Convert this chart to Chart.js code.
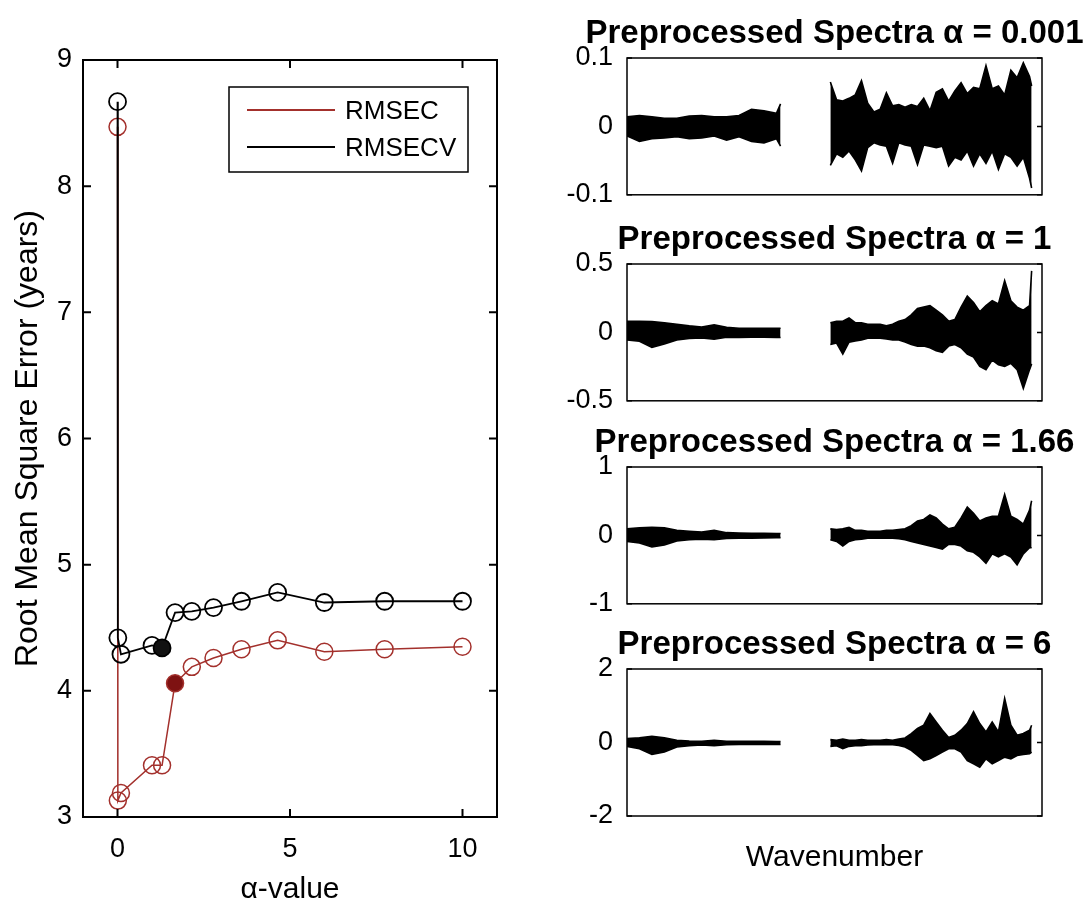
<!DOCTYPE html>
<html>
<head>
<meta charset="utf-8">
<script src="https://cdn.jsdelivr.net/npm/chart.js@4.4.1/dist/chart.umd.min.js"></script>
<style>
  html, body { margin: 0; padding: 0; background: #fff; overflow: hidden; width: 1086px; height: 907px; }
  canvas { position: absolute; }
</style>
</head>
<body>
<canvas id="rmse" width="540" height="907" style="left:0;top:0"></canvas>
<canvas id="spec0" width="589" height="208" style="left:540px;top:17px"></canvas>
<canvas id="spec1" width="589" height="208" style="left:540px;top:223px"></canvas>
<canvas id="spec2" width="589" height="208" style="left:540px;top:426px"></canvas>
<canvas id="spec3" width="589" height="248" style="left:540px;top:628px"></canvas>
<script>
// ---- left panel: RMSE vs alpha ----
const alphaValues = [0.001, 0.01, 0.1, 1, 1.292, 1.668, 2.154, 2.783, 3.594, 4.642, 5.995, 7.743, 10];
const rmsec  = [8.47, 3.13, 3.19, 3.41, 3.41, 4.06, 4.19, 4.26, 4.33, 4.40, 4.31, 4.33, 4.35];
const rmsecv = [8.67, 4.42, 4.29, 4.36, 4.34, 4.62, 4.63, 4.66, 4.71, 4.78, 4.70, 4.71, 4.71];
const rmsecBest = 5;   // filled marker index
const rmsecvBest = 4;
const xTickVals = [0, 5, 10];

// ---- right panels: spectra envelopes (upper / lower) ----
const seg1X = [0, 3, 6, 9, 12, 15, 18, 21, 24, 27, 30, 33, 36, 37];
const seg2X = [49, 50.5, 52, 53.5, 55, 56.5, 58, 59.5, 61, 62.5, 64, 65.5, 67, 68.5, 70, 71.5, 73, 74.5,
               76, 77.5, 79, 80.5, 82, 83.5, 85, 86.5, 88, 89.5, 91, 92.5, 94, 95.5, 97, 97.5];

const p1Seg1Hi = [0.014, 0.016, 0.014, 0.012, 0.012, 0.015, 0.016, 0.014, 0.014, 0.016, 0.025, 0.023, 0.019, 0.033];
const p1Seg1Lo = [-0.014, -0.022, -0.018, -0.017, -0.015, -0.018, -0.017, -0.014, -0.020, -0.015, -0.022, -0.024, -0.018, -0.029];
const p1Seg2Hi = [0.065, 0.039, 0.037, 0.041, 0.046, 0.067, 0.034, 0.021, 0.025, 0.049, 0.030, 0.032, 0.028, 0.032, 0.029, 0.041, 0.023,
                  0.050, 0.055, 0.037, 0.052, 0.064, 0.048, 0.057, 0.055, 0.089, 0.055, 0.059, 0.046, 0.082, 0.071, 0.093, 0.073, 0.059];
const p1Seg2Lo = [-0.057, -0.040, -0.045, -0.036, -0.049, -0.065, -0.031, -0.024, -0.027, -0.029, -0.054, -0.024, -0.027, -0.029,
                  -0.056, -0.027, -0.029, -0.031, -0.029, -0.058, -0.045, -0.049, -0.036, -0.058, -0.040, -0.054, -0.036, -0.063,
                  -0.040, -0.045, -0.058, -0.045, -0.076, -0.090];

const p2Seg1Hi = [0.082, 0.082, 0.080, 0.070, 0.060, 0.048, 0.040, 0.055, 0.037, 0.030, 0.030, 0.030, 0.030, 0.030];
const p2Seg1Lo = [-0.055, -0.065, -0.110, -0.085, -0.055, -0.045, -0.040, -0.050, -0.035, -0.037, -0.036, -0.036, -0.037, -0.037];
const p2Seg2Hi = [0.071, 0.082, 0.082, 0.105, 0.071, 0.071, 0.059, 0.059, 0.059, 0.048, 0.059, 0.082, 0.094, 0.128, 0.174, 0.185, 0.196,
                  0.162, 0.128, 0.082, 0.094, 0.185, 0.265, 0.219, 0.151, 0.196, 0.231, 0.208, 0.379, 0.231, 0.185, 0.162, 0.196, 0.45];
const p2Seg2Lo = [-0.089, -0.078, -0.158, -0.071, -0.062, -0.055, -0.043, -0.043, -0.043, -0.048, -0.055, -0.055, -0.071, -0.089,
                  -0.100, -0.100, -0.112, -0.135, -0.146, -0.100, -0.089, -0.112, -0.158, -0.180, -0.249, -0.272, -0.203, -0.237,
                  -0.249, -0.226, -0.272, -0.409, -0.272, -0.230];

const p3Seg1Hi = [0.096, 0.110, 0.120, 0.110, 0.073, 0.060, 0.050, 0.073, 0.040, 0.035, 0.030, 0.030, 0.027, 0.027];
const p3Seg1Lo = [-0.087, -0.110, -0.170, -0.140, -0.080, -0.064, -0.055, -0.064, -0.045, -0.040, -0.040, -0.036, -0.032, -0.032];
const p3Seg2Hi = [0.096, 0.087, 0.096, 0.119, 0.073, 0.073, 0.059, 0.059, 0.059, 0.073, 0.073, 0.087, 0.096, 0.142, 0.210, 0.233, 0.301,
                  0.256, 0.164, 0.096, 0.119, 0.256, 0.416, 0.324, 0.210, 0.256, 0.279, 0.279, 0.598, 0.279, 0.233, 0.164, 0.370, 0.507];
const p3Seg2Lo = [-0.064, -0.087, -0.155, -0.087, -0.064, -0.055, -0.041, -0.041, -0.041, -0.041, -0.041, -0.050, -0.064, -0.087,
                  -0.110, -0.132, -0.155, -0.178, -0.200, -0.132, -0.132, -0.155, -0.224, -0.247, -0.315, -0.406, -0.270, -0.315,
                  -0.270, -0.315, -0.430, -0.270, -0.178, -0.180];

const p4Seg1Hi = [0.105, 0.130, 0.170, 0.130, 0.060, 0.040, 0.032, 0.060, 0.032, 0.032, 0.032, 0.032, 0.023, 0.023];
const p4Seg1Lo = [-0.105, -0.170, -0.325, -0.260, -0.124, -0.087, -0.070, -0.087, -0.060, -0.050, -0.050, -0.050, -0.050, -0.050];
const p4Seg2Hi = [0.078, 0.060, 0.096, 0.060, 0.060, 0.078, 0.060, 0.060, 0.060, 0.078, 0.060, 0.096, 0.124, 0.243, 0.380, 0.470, 0.790,
                  0.560, 0.334, 0.133, 0.197, 0.334, 0.517, 0.838, 0.517, 0.288, 0.560, 0.288, 1.200, 0.470, 0.197, 0.243, 0.334, 0.470];
const p4Seg2Lo = [-0.105, -0.087, -0.170, -0.105, -0.087, -0.087, -0.070, -0.060, -0.060, -0.060, -0.060, -0.078, -0.124, -0.215,
                  -0.352, -0.490, -0.444, -0.352, -0.260, -0.170, -0.170, -0.260, -0.490, -0.580, -0.670, -0.444, -0.580, -0.490,
                  -0.398, -0.444, -0.352, -0.325, -0.307, -0.260];

const spectraTitles = ['Preprocessed Spectra α = 0.001', 'Preprocessed Spectra α = 1',
                       'Preprocessed Spectra α = 1.66', 'Preprocessed Spectra α = 6'];
const spectraLimits = [0.1, 0.5, 1, 2];
const spectraData = [
  [p1Seg1Hi, p1Seg1Lo, p1Seg2Hi, p1Seg2Lo],
  [p2Seg1Hi, p2Seg1Lo, p2Seg2Hi, p2Seg2Lo],
  [p3Seg1Hi, p3Seg1Lo, p3Seg2Hi, p3Seg2Lo],
  [p4Seg1Hi, p4Seg1Lo, p4Seg2Hi, p4Seg2Lo]
];

Chart.defaults.font.family = '"Liberation Sans", Arial, Helvetica, sans-serif';
Chart.defaults.color = '#000';

const RED = '#a3302c';
const RED_FILL = '#7e1212';

// box around the axes + inward tick marks (matlab style)
const framePlugin = {
  id: 'frame',
  afterDraw(chart, args, opts) {
    const { ctx, chartArea: a } = chart;
    const len = opts.tickLength || 6;
    ctx.save();
    ctx.strokeStyle = '#000';
    ctx.lineWidth = opts.lineWidth || 1.5;
    ctx.beginPath();
    const ys = chart.scales.y;
    ys.ticks.forEach(t => {
      const py = ys.getPixelForValue(t.value);
      ctx.moveTo(a.left, py); ctx.lineTo(a.left + len, py);
      ctx.moveTo(a.right, py); ctx.lineTo(a.right - len, py);
    });
    if (opts.xTicks) {
      const xs = chart.scales.x;
      xs.ticks.forEach(t => {
        const px = xs.getPixelForValue(t.value);
        ctx.moveTo(px, a.bottom); ctx.lineTo(px, a.bottom - len);
        ctx.moveTo(px, a.top); ctx.lineTo(px, a.top + len);
      });
    }
    ctx.stroke();
    ctx.strokeRect(a.left, a.top, a.right - a.left, a.bottom - a.top);
    ctx.restore();
  }
};

// boxed legend in the upper right, line samples only
const boxLegendPlugin = {
  id: 'boxLegend',
  afterDraw(chart, args, opts) {
    const { ctx, chartArea: a } = chart;
    const right = a.right - 29, top = a.top + 27, w = 239, h = 85;
    const left = right - w;
    ctx.save();
    ctx.fillStyle = '#fff';
    ctx.fillRect(left, top, w, h);
    ctx.strokeStyle = '#000';
    ctx.lineWidth = 1.5;
    ctx.strokeRect(left, top, w, h);
    ctx.font = '26px "Liberation Sans", Arial, sans-serif';
    ctx.textBaseline = 'middle';
    opts.order.forEach((di, i) => {
      const ds = chart.data.datasets[di];
      const y = top + 23 + i * 37;
      ctx.strokeStyle = ds.borderColor;
      ctx.lineWidth = 2;
      ctx.beginPath();
      ctx.moveTo(left + 18, y);
      ctx.lineTo(left + 106, y);
      ctx.stroke();
      ctx.fillStyle = '#000';
      ctx.fillText(ds.label, left + 116, y + 2);
    });
    ctx.restore();
  }
};

function markerFill(n, best, color) {
  const arr = [];
  for (let i = 0; i < n; i++) arr.push(i === best ? color : 'rgba(0,0,0,0)');
  return arr;
}

new Chart(document.getElementById('rmse'), {
  type: 'line',
  data: {
    datasets: [
      {
        label: 'RMSECV',
        data: alphaValues.map((a, i) => ({ x: a, y: rmsecv[i] })),
        borderColor: '#000',
        borderWidth: 1.8,
        pointRadius: 8.5,
        pointBorderWidth: 1.8,
        pointBorderColor: '#000',
        pointBackgroundColor: markerFill(alphaValues.length, rmsecvBest, '#111'),
        tension: 0
      },
      {
        label: 'RMSEC',
        data: alphaValues.map((a, i) => ({ x: a, y: rmsec[i] })),
        borderColor: RED,
        borderWidth: 1.5,
        pointRadius: 8.5,
        pointBorderWidth: 1.5,
        pointBorderColor: RED,
        pointBackgroundColor: markerFill(alphaValues.length, rmsecBest, RED_FILL),
        tension: 0
      }
    ]
  },
  options: {
    responsive: false,
    animation: false,
    layout: { padding: { left: 0, right: 43, top: 60, bottom: 0 } },
    scales: {
      x: {
        type: 'linear',
        min: -1,
        max: 11,
        afterBuildTicks: (scale) => { scale.ticks = xTickVals.map(v => ({ value: v })); },
        afterFit: (scale) => { scale.height = 90; },
        grid: { display: false, drawTicks: false },
        border: { display: false },
        ticks: { font: { size: 27 }, padding: 16, maxRotation: 0 },
        title: { display: true, text: 'α-value', font: { size: 30, lineHeight: 1 }, padding: { top: 0, bottom: 2 } }
      },
      y: {
        min: 3,
        max: 9,
        afterFit: (scale) => { scale.width = 83; },
        grid: { display: false, drawTicks: false },
        border: { display: false },
        ticks: { stepSize: 1, font: { size: 27 }, padding: 11 },
        title: { display: true, text: 'Root Mean Square Error (years)', font: { size: 32, lineHeight: 1 }, padding: { top: 12, bottom: 0 } }
      }
    },
    plugins: {
      legend: { display: false },
      tooltip: { enabled: false },
      frame: { tickLength: 8, lineWidth: 2, xTicks: true },
      boxLegend: { order: [1, 0] }
    }
  },
  plugins: [framePlugin, boxLegendPlugin]
});

function spectraChart(idx) {
  const [s1Hi, s1Lo, s2Hi, s2Lo] = spectraData[idx];
  const lim = spectraLimits[idx];
  const last = idx === spectraData.length - 1;
  const line = (xs, ys, fill) => ({
    data: xs.map((x, i) => ({ x: x, y: ys[i] })),
    borderColor: '#000',
    borderWidth: 1.6,
    backgroundColor: '#000',
    pointRadius: 0,
    tension: 0,
    fill: fill
  });
  new Chart(document.getElementById('spec' + idx), {
    type: 'line',
    data: {
      datasets: [
        line(seg1X, s1Hi, '+1'), line(seg1X, s1Lo, false),
        line(seg2X, s2Hi, '+1'), line(seg2X, s2Lo, false)
      ]
    },
    options: {
      responsive: false,
      animation: false,
      layout: { padding: { left: 0, right: 0, top: 0, bottom: last ? 0 : 20 } },
      scales: {
        x: {
          type: 'linear',
          min: 0,
          max: 100,
          display: last,
          afterFit: (scale) => { if (last) scale.height = 60; },
          grid: { display: false, drawTicks: false },
          border: { display: false },
          ticks: { display: false },
          title: { display: true, text: 'Wavenumber', font: { size: 30 }, padding: { top: 17, bottom: 0 } }
        },
        y: {
          min: -lim,
          max: lim,
          afterFit: (scale) => { scale.width = 87; },
          grid: { display: false, drawTicks: false },
          border: { display: false },
          ticks: { stepSize: lim, font: { size: 27 }, padding: 14 }
        },
        yRight: {
          axis: 'y',
          position: 'right',
          display: true,
          afterFit: (scale) => { scale.width = 87; },
          grid: { display: false, drawTicks: false },
          border: { display: false },
          ticks: { display: false }
        }
      },
      plugins: {
        legend: { display: false },
        tooltip: { enabled: false },
        title: {
          display: true,
          text: spectraTitles[idx],
          font: { size: 33, weight: 'bold', lineHeight: 1 },
          padding: { top: 0, bottom: 8 }
        },
        frame: { tickLength: 5, lineWidth: 1.5, xTicks: false }
      }
    },
    plugins: [framePlugin]
  });
}

for (let i = 0; i < spectraData.length; i++) spectraChart(i);
</script>
</body>
</html>
